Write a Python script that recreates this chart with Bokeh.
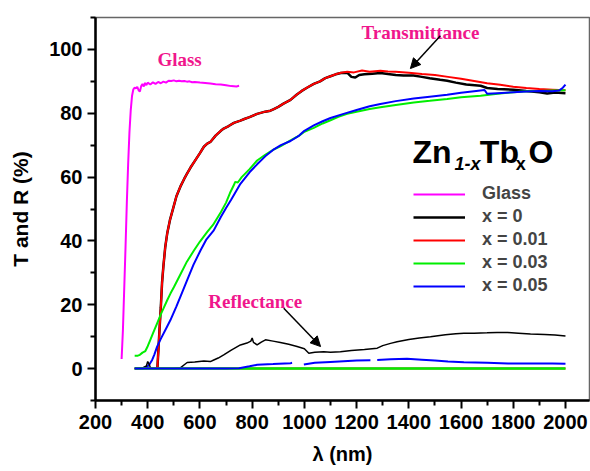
from bokeh.plotting import figure
from bokeh.models import (Range1d, FixedTicker, Legend, LegendItem, Label, Arrow,
                          NormalHead)
from bokeh.embed import file_html
from bokeh.resources import INLINE

nan = float("nan")

# ---------------- data ----------------
glass_x = [300, 305, 310, 315, 320, 325, 330, 335, 340, 345, 350, 355, 360, 365, 370, 375,
           380, 385, 390, 395, 400, 410, 420, 430, 440, 450, 460, 470, 480, 490, 500, 510,
           520, 530, 540, 550, 560, 570, 580, 600, 620, 640, 660, 680, 700, 720, 740, 750]
glass_y = [3, 12, 25, 38, 52, 64, 74, 81, 85.5, 87.5, 88, 87.8, 88.3, 87.2, 86.8, 88.5,
           89.2, 88.4, 89.5, 88.8, 89.6, 89.0, 89.7, 89.2, 89.8, 89.4, 89.9, 89.6, 90.2, 90.1, 90.3, 90.0,
           90.2, 90.0, 90.1, 89.9, 90.0, 89.7, 89.8, 89.6, 89.5, 89.3, 89.1, 89.0, 88.8, 88.5, 88.4, 88.6]

t0_x = [437, 445, 450, 455, 460, 467, 475, 485, 500, 510, 525, 540, 550, 564, 580, 600, 615,
        628, 640, 660, 680, 691, 710, 730, 755, 770, 790, 819, 850, 870, 883, 900, 920, 947,
        970, 990, 1010, 1036, 1060, 1080, 1100, 1120, 1140, 1164, 1180, 1195, 1210, 1230, 1260,
        1291, 1320, 1350, 1380, 1418, 1450, 1480, 1520, 1547, 1580, 1620, 1675, 1700, 1740,
        1801, 1850, 1900, 1930, 1960, 2000]
t0_y = [0, 12, 19, 27, 32, 38, 42.5, 46.5, 51, 54, 57, 59.5, 61, 63, 65, 67.5, 69.5,
        70.5, 71, 73, 74.5, 75.2, 76, 77, 77.7, 78.2, 78.8, 79.8, 80.5, 80.8, 81.3, 82, 83, 84.2,
        85.8, 87, 88, 89.2, 90, 91, 91.6, 92.2, 92.6, 92.7, 91.4, 91.2, 92.0, 92.2, 92.4,
        92.6, 92.3, 92.0, 91.8, 91.8, 91.4, 91.0, 90.5, 90.2, 89.6, 89.0, 88.6, 87.9, 87.6,
        87.4, 87.0, 86.6, 86.2, 86.5, 86.3]

t1_x = [437, 445, 450, 455, 460, 467, 475, 485, 500, 510, 525, 540, 550, 564, 580, 600, 615,
        628, 640, 660, 680, 691, 710, 730, 755, 770, 790, 819, 850, 870, 883, 900, 920, 947,
        970, 990, 1010, 1036, 1060, 1080, 1100, 1120, 1140, 1164, 1190, 1221, 1250, 1291, 1320,
        1350, 1400, 1450, 1500, 1550, 1600, 1650, 1700, 1750, 1800, 1850, 1900, 1950, 2000]
t1_y = [0, 12, 19, 27, 32, 38, 42.5, 46.5, 51, 54, 57, 59.5, 61, 63, 65, 67.5, 69.5,
        70.5, 71, 73, 74.5, 75.2, 76, 77, 77.7, 78.2, 78.8, 79.8, 80.5, 80.8, 81.3, 82, 83, 84.2,
        85.8, 87, 88, 89.2, 90, 91, 91.6, 92.2, 92.7, 93.0, 92.8, 93.4, 93.0, 93.3, 93.1,
        93.0, 92.7, 92.3, 92.0, 91.4, 90.8, 90.1, 89.4, 88.9, 88.3, 87.9, 87.6, 87.4, 87.2]

t3_x = [350, 360, 370, 380, 391, 400, 410, 420, 436, 450, 460, 475, 487, 500, 525, 550, 577,
        600, 628, 650, 680, 700, 715, 730, 735, 745, 760, 790, 819, 850, 880, 908, 947, 980,
        1000, 1036, 1070, 1100, 1130, 1164, 1200, 1250, 1291, 1350, 1419, 1480, 1547, 1600,
        1675, 1740, 1801, 1850, 1900, 1950, 2000]
t3_y = [4, 4, 4.3, 5, 5.5, 7, 9, 11, 14.2, 17, 18.8, 21.5, 23.5, 25.5, 29.5, 33.5, 37,
        39.8, 42.8, 45, 49, 52, 55, 57.5, 58.5, 58.3, 60, 62.5, 65.2, 67, 68.5, 69.6, 71.5, 73,
        74.2, 75.4, 76.8, 77.8, 78.9, 79.8, 80.5, 81.3, 81.9, 82.6, 83.4, 83.9, 84.5, 85,
        85.5, 86.1, 86.6, 86.9, 87.0, 87.1, 87.2]

t5_x = [350, 380, 398, 408, 417, 425, 436, 450, 470, 487, 510, 530, 551, 575, 602, 625, 653,
        680, 700, 720, 755, 790, 819, 850, 880, 910, 947, 980, 1000, 1036, 1070, 1100, 1150,
        1200, 1250, 1291, 1350, 1419, 1480, 1547, 1600, 1650, 1690, 1700, 1740, 1801, 1850,
        1900, 1950, 1975, 1990, 2000]
t5_y = [0, 0, 0.5, 1.5, 2.7, 4.3, 6.9, 9.3, 12.5, 15.2, 19.5, 23.5, 27.7, 32.5, 37, 40.5, 43.3,
        47.5, 50.3, 53, 57.9, 61.5, 64, 66.5, 68.5, 70, 71.3, 73, 74.5, 76.2, 77.5, 78.5, 79.8,
        81, 82.2, 82.9, 83.8, 84.6, 85.2, 85.8, 86.4, 86.9, 87.3, 86.1, 86.3, 86.6, 86.8,
        87.0, 86.9, 87.1, 88.0, 89.0]

r0_x = [350, 380, 395, 400, 405, 410, 420, 440, 500, 525, 540, 551, 580, 615, 640, 653, 670,
        691, 720, 755, 780, 795, 800, 805, 819, 835, 851, 880, 908, 940, 972, 1000, 1017,
        1040, 1074, 1100, 1138, 1180, 1230, 1279, 1300, 1330, 1355, 1400, 1440, 1483, 1540,
        1580, 1611, 1650, 1700, 1738, 1780, 1820, 1866, 1920, 1960, 2000]
r0_y = [0, 0.2, 0.8, 2.2, 1.5, 0.3, 0, 0, 0, 0.2, 1.2, 1.9, 2.1, 2.4, 2.2, 2.7, 3.3,
        4.3, 5.8, 7.4, 8.0, 8.6, 9.6, 8.2, 7.4, 8.3, 9.0, 8.6, 8.2, 7.6, 6.9, 6.2, 4.8,
        5.1, 5.3, 5.1, 5.3, 5.7, 6.0, 6.4, 7.2, 7.9, 8.4, 9.1, 9.6, 10.0, 10.6,
        10.9, 11.1, 11.1, 11.2, 11.3, 11.3, 11.1, 10.8, 10.7, 10.5, 10.2]

r1_x = [350, 2000]
r1_y = [0, 0]
r3_x = [350, 2000]
r3_y = [0, 0]

r5_x = [350, 700, 750, 790, 819, 880, 947, 953, 975, 998, 1040, 1100, 1150, 1200, 1253, 1265,
        1279, 1330, 1393, 1450, 1500, 1550, 1611, 1700, 1780, 1866, 1950, 2000]
r5_y = [0, 0, 0.1, 0.7, 1.2, 1.4, 1.7, 1.8, nan, 1.3, 1.8, 2.1, 2.3, 2.5, 2.6, nan,
        2.7, 2.9, 3.1, 2.8, 2.5, 2.2, 2.0, 1.8, 1.6, 1.6, 1.6, 1.5]

x_ticks = [200, 400, 600, 800, 1000, 1200, 1400, 1600, 1800, 2000]
x_minor = [300, 500, 700, 900, 1100, 1300, 1500, 1700, 1900]
y_ticks = [0, 20, 40, 60, 80, 100]
y_minor = [-10, 10, 30, 50, 70, 90, 110]
legend_labels = ["Glass", "x = 0", "x = 0.01", "x = 0.03", "x = 0.05"]
x_title = "λ (nm)"
y_title = "T and R (%)"

# ---------------- figure ----------------
p = figure(width=590, height=471, x_range=Range1d(200, 2092), y_range=Range1d(-10, 110),
           output_backend="svg", toolbar_location=None,
           min_border_left=95, min_border_right=1, min_border_top=17, min_border_bottom=71)
p.background_fill_color = "white"
p.border_fill_color = "white"
p.grid.visible = False
p.outline_line_color = "#666666"
p.outline_line_width = 1.5

FONT = "Liberation Sans"
SERIF = "Liberation Serif"
PINK = "#F0168C"

for ax in (p.xaxis[0], p.yaxis[0]):
    ax.axis_line_width = 2.5
    ax.axis_line_color = "black"
    ax.major_tick_line_color = "black"
    ax.minor_tick_line_color = "black"
    ax.major_tick_line_width = 2
    ax.minor_tick_line_width = 2
    ax.major_tick_out = 8
    ax.major_tick_in = 0
    ax.minor_tick_out = 5
    ax.minor_tick_in = 0
    ax.major_label_text_font = FONT
    ax.major_label_text_font_style = "bold"
    ax.major_label_text_font_size = "20px"
    ax.major_label_text_color = "black"
    ax.axis_label_text_font = FONT
    ax.axis_label_text_font_style = "bold"
    ax.axis_label_text_color = "black"

p.xaxis[0].ticker = FixedTicker(ticks=x_ticks, minor_ticks=x_minor)
p.yaxis[0].ticker = FixedTicker(ticks=y_ticks, minor_ticks=y_minor)
p.xaxis[0].major_label_standoff = 6
p.yaxis[0].major_label_standoff = 5
p.xaxis[0].axis_label = x_title
p.yaxis[0].axis_label = y_title
p.xaxis[0].axis_label_text_font_size = "20px"
p.yaxis[0].axis_label_text_font_size = "21px"
p.xaxis[0].axis_label_standoff = 11
p.yaxis[0].axis_label_standoff = 14

LW = 2
GREEN = "#00EE00"
r_t0 = p.line(t0_x, t0_y, line_color="black", line_width=2.5)
r_t1 = p.line(t1_x, t1_y, line_color="red", line_width=LW)
r_t3 = p.line(t3_x, t3_y, line_color=GREEN, line_width=LW)
r_t5 = p.line(t5_x, t5_y, line_color="blue", line_width=LW)
r_gl = p.line(glass_x, glass_y, line_color="magenta", line_width=LW)

p.line(r0_x, r0_y, line_color="black", line_width=1.5)
p.line(r1_x, r1_y, line_color="red", line_width=LW)
p.line(r3_x, r3_y, line_color=GREEN, line_width=LW + 0.5)
p.line(r5_x, r5_y, line_color="blue", line_width=LW)

legend = Legend(items=[LegendItem(label=legend_labels[0], renderers=[r_gl]),
                       LegendItem(label=legend_labels[1], renderers=[r_t0]),
                       LegendItem(label=legend_labels[2], renderers=[r_t1]),
                       LegendItem(label=legend_labels[3], renderers=[r_t3]),
                       LegendItem(label=legend_labels[4], renderers=[r_t5])],
                location=(318, 104))
legend.border_line_color = None
legend.background_fill_alpha = 0
legend.padding = 0
legend.margin = 0
legend.spacing = 2
legend.glyph_width = 52
legend.glyph_height = 20
legend.label_height = 20
legend.label_standoff = 17
legend.label_text_font = FONT
legend.label_text_font_style = "bold"
legend.label_text_font_size = "18px"
p.add_layout(legend)

# legend title Zn1-xTbxO
big = "32px"
small = "18px"
for txt, xx, yy, size, style in [("Zn", 1414, 67.8, big, "bold"),
                                 ("1-x", 1575, 64.0, small, "bold italic"),
                                 ("Tb", 1672, 67.8, big, "bold"),
                                 ("x", 1810, 64.0, small, "bold"),
                                 ("O", 1858, 67.8, big, "bold")]:
    p.add_layout(Label(x=xx, y=yy, text=txt, text_font=FONT, text_font_size=size,
                       text_font_style=style, text_color="black", text_baseline="alphabetic"))

# annotations
for txt, xx, yy in [("Glass", 437, 96.8), ("Transmittance", 1219, 105.2), ("Reflectance", 632, 20.9)]:
    p.add_layout(Label(x=xx, y=yy, text=txt, text_font=SERIF, text_font_size="19px",
                       text_font_style="bold", text_color=PINK, text_baseline="alphabetic"))

p.add_layout(Arrow(end=NormalHead(size=10, fill_color="black", line_color="black"),
                   x_start=1521, y_start=104.3, x_end=1406, y_end=94.0,
                   line_width=1.5, line_color="black"))
p.add_layout(Arrow(end=NormalHead(size=10, fill_color="black", line_color="black"),
                   x_start=921, y_start=18.9, x_end=1062, y_end=6.9,
                   line_width=1.5, line_color="black"))

open("out.html", "w").write(file_html(p, INLINE))
